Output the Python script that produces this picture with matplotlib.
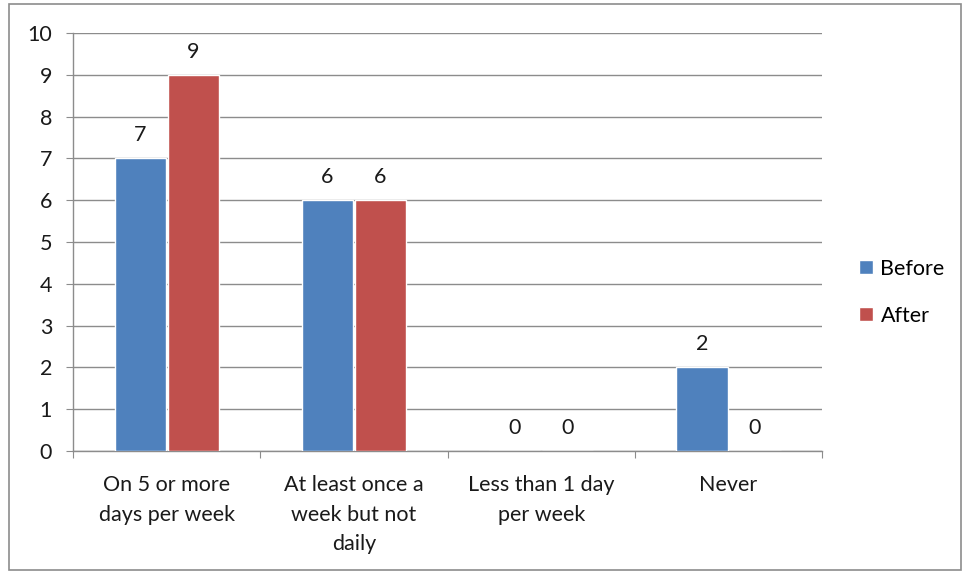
import matplotlib
matplotlib.use("Agg")
import matplotlib.pyplot as plt
from matplotlib.patches import Rectangle
import numpy as np

categories = ["On 5 or more\ndays per week", "At least once a\nweek but not\ndaily",
              "Less than 1 day\nper week", "Never"]
before = [7, 6, 0, 2]
after = [9, 6, 0, 0]
series_names = ["Before", "After"]
colors = ["#4F81BD", "#C0504D"]
y_ticks = list(range(0, 11))

plt.rcParams["font.family"] = ["Lato", "DejaVu Sans"]
FS = 15.5
TXT = "#1a1a1a"

fig = plt.figure(figsize=(9.65, 5.73), dpi=100)
ax = fig.add_axes([0.0756, 0.2129, 0.7764, 0.7295])

# outer chart border
fig.patches.append(Rectangle((0.009, 0.005), 0.987, 0.988, transform=fig.transFigure,
                             fill=False, edgecolor="#8c8c8c", linewidth=1.2))

x = np.arange(len(categories))
w = 0.273
for vals, off, col, name in [(before, -w / 2 - 0.005, colors[0], series_names[0]),
                             (after, w / 2 + 0.005, colors[1], series_names[1])]:
    bars = ax.bar(x + off, vals, width=w, color=col, edgecolor="white",
                  linewidth=1.0, label=name, zorder=3)
    for b, v in zip(bars, vals):
        ax.annotate(f"{v}", (b.get_x() + b.get_width() / 2, v),
                    xytext=(0, 9.5), textcoords="offset points",
                    ha="center", va="bottom", fontsize=FS, color=TXT)

ax.set_xlim(-0.5, len(categories) - 0.5)
ax.set_ylim(0, 10)
ax.set_yticks(y_ticks)
ax.set_yticklabels([str(t) for t in y_ticks], fontsize=FS, color=TXT)
ax.yaxis.grid(True, color="#8c8c8c", linewidth=1.0, zorder=0)
ax.set_axisbelow(True)

ax.set_xticks(np.arange(-0.5, len(categories)), minor=False)
ax.set_xticklabels([""] * (len(categories) + 1))
ax.set_xticks(x, minor=True)
ax.set_xticklabels(categories, minor=True, fontsize=FS, color=TXT,
                   linespacing=1.62)
ax.tick_params(axis="x", which="minor", length=0, pad=17)
ax.tick_params(axis="x", which="major", length=5, color="#8c8c8c")
ax.tick_params(axis="y", length=5, color="#8c8c8c", pad=10)

for s in ["top", "right"]:
    ax.spines[s].set_visible(False)
for s in ["left", "bottom"]:
    ax.spines[s].set_color("#8c8c8c")
    ax.spines[s].set_linewidth(1.0)

leg = fig.legend(loc="center left", bbox_to_anchor=(0.870, 0.49), frameon=False,
                 fontsize=FS, handlelength=0.65, handleheight=0.65,
                 handletextpad=0.35, labelspacing=1.25)

fig.savefig("out.png", dpi=100)
